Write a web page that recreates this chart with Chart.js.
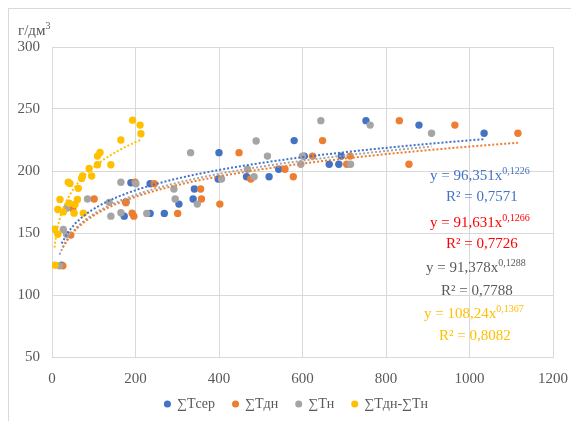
<!DOCTYPE html>
<html lang="ru">
<head>
  <meta charset="UTF-8" />
  <title>∑T</title>
  <style>
    body {
      margin: 0;
      background: #ffffff;
      overflow: hidden;
    }
    #wrap {
      position: relative;
      width: 571px;
      height: 421px;
      overflow: hidden;
    }
    #frame {
      position: absolute;
      left: 8px;
      top: 8px;
      width: 700px;
      height: 600px;
      border-left: 1px solid #d9d9d9;
      border-top: 1px solid #d9d9d9;
    }
    canvas {
      position: absolute;
      left: 0;
      top: 0;
    }
  </style>
</head>
<body>
  <div id="wrap">
    <div id="frame"></div>
    <!-- область диаграммы шире окна, как в оригинале (правый край обрезан) -->
    <canvas id="chart" width="593" height="421"></canvas>
  </div>

  <script src="https://cdn.jsdelivr.net/npm/chart.js"></script>
  <script>
    const labels = ['∑Tсер', '∑Tдн', '∑Tн', '∑Tдн-∑Tн'];
    const colors = ['#4472c4', '#ed7d31', '#a5a5a5', '#ffc000'];

    const tserX = [23, 189, 235, 177, 173, 235, 269, 304, 341, 338, 400, 398, 466, 520, 543, 580, 604, 664, 687, 693, 752, 879, 1035];
    const tserY = [124, 190.5, 189.7, 175, 163.6, 165.8, 165.8, 173.3, 185.5, 177.4, 214.8, 193.5, 195.4, 195.4, 201.4, 224.5, 212, 205.4, 205.4, 212, 240.6, 237, 230.4];

    const tdnX = [26, 45, 50, 101, 177, 192, 196, 199, 245, 301, 356, 358, 402, 448, 476, 558, 578, 624, 648, 706, 714, 832, 855, 965, 1116];
    const tdnY = [123.5, 148.3, 169.5, 177.4, 174.4, 166, 163.6, 190.9, 189.7, 165.8, 185.5, 177.4, 173.3, 214.8, 193.5, 201.4, 195.4, 212, 224.5, 205.4, 212, 240.6, 205.4, 237, 230.4];

    const tnX = [18, 27, 35, 35, 85, 137, 141, 165, 165, 201, 227, 292, 295, 332, 348, 406, 468, 484, 489, 516, 596, 600, 644, 715, 762, 909];
    const tnY = [123.5, 152.9, 148.9, 169.9, 177.4, 174.7, 163.6, 190.9, 166.3, 189.7, 165.8, 185.5, 177.4, 214.8, 173.3, 193.5, 201.4, 195.4, 224.2, 212, 205.4, 212, 240.6, 205.4, 237, 230.4];

    const tdiffX = [7, 6, 14, 14, 19, 27, 39, 43, 41, 53, 55, 61, 63, 71, 73, 75, 89, 95, 109, 109, 115, 141, 165, 193, 211, 213];
    const tdiffY = [124, 153, 149, 169, 177, 167, 191, 190, 174, 166, 173, 177, 186, 194, 196, 166, 202, 196, 205, 212, 215, 205, 225, 241, 237, 230];

    // степенные линии тренда y = a*x^b (как на рисунке)
    const trendA = [96.351, 91.631, 91.378, 108.24];
    const trendB = [0.1226, 0.1266, 0.1288, 0.1367];
    const trendLabelA = ['96,351', '91,631', '91,378', '108,24'];
    const trendLabelB = ['0,1226', '0,1266', '0,1288', '0,1367'];
    const trendR2 = ['0,7571', '0,7726', '0,7788', '0,8082'];
    const textColors = ['#4472c4', '#ff0000', '#595959', '#ffc000'];

    const seriesX = [tserX, tdnX, tnX, tdiffX];
    const seriesY = [tserY, tdnY, tnY, tdiffY];

    function trendPoints(i) {
      const xs = seriesX[i];
      const lo = Math.min(...xs), hi = Math.max(...xs);
      const pts = [];
      for (let k = 0; k <= 60; k++) {
        const x = lo + (hi - lo) * k / 60;
        pts.push({ x, y: trendA[i] * Math.pow(x, trendB[i]) });
      }
      return pts;
    }

    const datasets = [];
    labels.forEach((name, i) => {
      datasets.push({
        label: name,
        data: seriesX[i].map((x, k) => ({ x, y: seriesY[i][k] })),
        backgroundColor: colors[i],
        borderColor: colors[i],
        borderWidth: 0,
        pointRadius: 3.7,
        order: 10 - i
      });
    });
    labels.forEach((name, i) => {
      datasets.push({
        label: 'trend' + i,
        data: trendPoints(i),
        showLine: true,
        borderColor: colors[i],
        borderWidth: 2,
        borderDash: [2, 2],
        pointRadius: 0,
        tension: 0,
        order: 1
      });
    });

    const serif = 'Liberation Serif';

    const eqPlugin = {
      id: 'eqText',
      afterDraw(chart) {
        const ctx = chart.ctx;
        ctx.save();
        ctx.textBaseline = 'middle';
        ctx.textAlign = 'left';
        // подпись оси
        ctx.fillStyle = '#595959';
        ctx.font = '15px ' + serif;
        ctx.fillText('г/дм', 18, 31);
        const w0 = ctx.measureText('г/дм').width;
        ctx.font = '10px ' + serif;
        ctx.fillText('3', 18 + w0, 26);

        const eqLeft = [430, 430, 426, 424];
        const r2Left = [446, 446, 441, 439];
        const eqY = [176, 223, 268, 314];
        const r2Y = [197, 244, 291, 336];
        for (let i = 0; i < 4; i++) {
          ctx.fillStyle = textColors[i];
          ctx.font = '15px ' + serif;
          const main = 'y = ' + trendLabelA[i] + 'x';
          ctx.fillText(main, eqLeft[i], eqY[i]);
          const w = ctx.measureText(main).width;
          ctx.font = '10px ' + serif;
          ctx.fillText(trendLabelB[i], eqLeft[i] + w, eqY[i] - 5);
          ctx.font = '15px ' + serif;
          ctx.fillText('R² = ' + trendR2[i], r2Left[i], r2Y[i]);
        }
        ctx.restore();
      }
    };

    // подписи делений не обрезаем по рамке шкалы
    const noLabelClip = scale => { scale._computeLabelArea = () => null; };

    new Chart(document.getElementById('chart'), {
      type: 'scatter',
      data: { datasets },
      options: {
        responsive: false,
        animation: false,
        layout: { padding: { top: 47, right: 40, left: 40, bottom: 0 } },
        scales: {
          x: {
            type: 'linear',
            min: 0,
            max: 1200,
            ticks: {
              stepSize: 200, color: '#595959', font: { family: serif, size: 15 }, padding: 13,
              callback: v => String(v)
            },
            grid: { color: '#d9d9d9', drawTicks: false },
            border: { color: '#d9d9d9' },
            afterFit(scale) { scale.height = 22; noLabelClip(scale); }
          },
          y: {
            min: 50,
            max: 300,
            ticks: { stepSize: 50, color: '#595959', font: { family: serif, size: 15 }, padding: 12 },
            grid: { color: '#d9d9d9', drawTicks: false },
            border: { color: '#d9d9d9' },
            afterFit(scale) { scale.width = 12; noLabelClip(scale); }
          }
        },
        plugins: {
          legend: {
            position: 'bottom',
            labels: {
              usePointStyle: true,
              pointStyle: 'circle',
              boxHeight: 5,
              boxWidth: 5,
              padding: 18,
              color: '#595959',
              font: { family: serif, size: 14 },
              filter: item => !item.text.startsWith('trend'),
              sort: (a, b) => a.datasetIndex - b.datasetIndex
            }
          },
          tooltip: { enabled: false }
        }
      },
      plugins: [eqPlugin]
    });
  </script>
</body>
</html>
